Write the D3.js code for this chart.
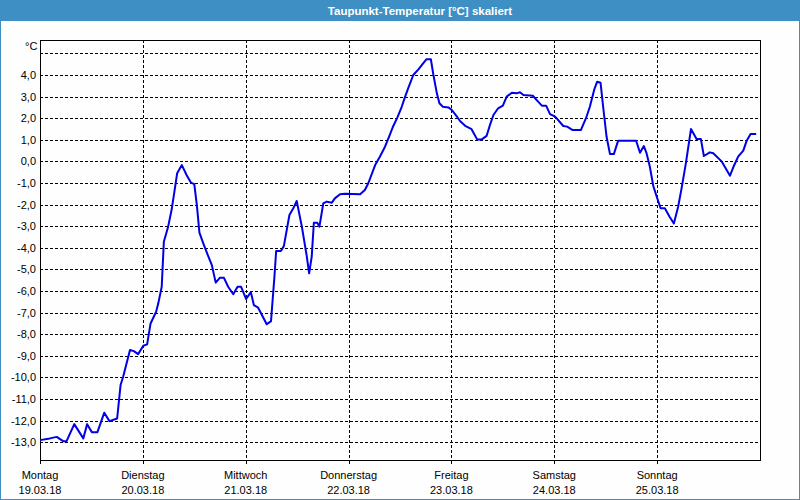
<!DOCTYPE html>
<html><head><meta charset="utf-8">
<script src="https://cdn.jsdelivr.net/npm/d3@7"></script>
<style>html,body{margin:0;padding:0;background:#fff}svg{display:block}</style>
</head><body>
<svg id="c" width="800" height="500"></svg>
<script>
const title = "Taupunkt-Temperatur [°C] skaliert";
const unitLabel = "°C";
const dayNames = ["Montag","Dienstag","Mittwoch","Donnerstag","Freitag","Samstag","Sonntag"];
const dayDates = ["19.03.18","20.03.18","21.03.18","22.03.18","23.03.18","24.03.18","25.03.18"];
const yTicks = [-13,-12,-11,-10,-9,-8,-7,-6,-5,-4,-3,-2,-1,0,1,2,3,4];
const hours = [0,2.3,3.9,5.4,6.2,8.0,10.1,11.0,12.1,13.4,15.0,16.2,18.0,18.8,19.4,21.0,21.9,22.9,24.1,25.0,25.8,27.1,27.6,28.4,28.9,29.9,30.7,31.3,32.0,33.1,34.2,35.2,36.0,36.6,37.2,38.1,39.3,40.1,41.0,42.0,42.9,43.9,45.1,46.1,46.9,48.1,49.2,49.9,50.9,52.9,53.9,54.7,55.1,56.2,56.9,58.2,59.1,59.9,61.1,62.2,62.8,63.4,63.9,64.7,65.2,66.1,66.9,68.1,68.8,70.0,71.2,74.7,75.8,76.6,78.2,79.3,80.5,81.3,82.3,83.4,84.4,85.2,85.9,87.1,88.3,89.4,90.2,91.2,91.8,92.6,93.2,94.0,95.3,96.1,97.2,98.0,99.2,100.7,102.0,103.1,104.2,105.0,105.8,106.9,108.0,108.9,110.1,111.2,112.0,112.8,115.0,115.9,117.1,118.1,119.0,120.2,122.1,123.0,124.3,126.2,127.4,128.3,129.3,130.0,130.8,131.4,132.2,133.0,133.9,134.9,139.1,140.0,140.9,141.5,142.3,143.1,143.9,144.8,145.8,146.9,147.9,148.9,149.7,150.7,151.9,153.2,154.2,154.9,156.3,157.1,159.1,161.0,161.9,162.9,164.1,164.9,165.8,167.1];
const temps = [-12.9,-12.82,-12.75,-12.95,-12.95,-12.16,-12.82,-12.16,-12.53,-12.53,-11.63,-12.02,-11.9,-10.35,-9.97,-8.73,-8.78,-8.92,-8.53,-8.47,-7.5,-6.96,-6.57,-5.8,-3.72,-3.02,-2.25,-1.48,-0.55,-0.17,-0.63,-0.98,-1.05,-2.02,-3.3,-3.79,-4.41,-4.8,-5.61,-5.38,-5.38,-5.8,-6.15,-5.8,-5.8,-6.37,-6.05,-6.65,-6.77,-7.54,-7.39,-5.34,-4.15,-4.15,-3.92,-2.48,-2.17,-1.83,-3.02,-4.33,-5.18,-4.41,-2.84,-2.84,-3.02,-1.94,-1.86,-1.91,-1.71,-1.52,-1.5,-1.52,-1.32,-1.01,-0.17,0.22,0.68,1.07,1.58,2.04,2.53,3.0,3.38,4.0,4.26,4.54,4.73,4.73,4.0,3.15,2.69,2.53,2.5,2.38,2.1,1.87,1.65,1.49,1.02,1.02,1.18,1.69,2.15,2.46,2.58,3.0,3.18,3.15,3.2,3.07,3.04,2.84,2.58,2.58,2.19,2.07,1.64,1.61,1.45,1.45,2.0,2.53,3.31,3.69,3.64,2.53,1.14,0.34,0.34,0.96,0.96,0.40,0.71,0.40,-0.25,-1.14,-1.63,-2.17,-2.17,-2.56,-2.87,-2.1,-1.25,-0.09,1.5,1.04,1.04,0.25,0.42,0.38,-0.01,-0.66,-0.21,0.22,0.5,0.96,1.27,1.27];

const svg = d3.select("#c");
const W = 800, H = 500;
const L = 40, R = 760, T = 40, B = 460;
const font = "'Liberation Sans', Arial, sans-serif";

svg.append("rect").attr("x",0.5).attr("y",0.5).attr("width",W-1).attr("height",H-1)
  .attr("fill","#fdfefd").attr("stroke","#3d8fc4");
svg.append("rect").attr("x",0).attr("y",0).attr("width",W).attr("height",21).attr("fill","#3d8fc4");
svg.append("text").attr("x",420).attr("y",10.5).attr("text-anchor","middle").attr("dominant-baseline","central")
  .attr("fill","#fff").attr("font-family",font).attr("font-size",11.5).attr("font-weight","bold").text(title);

const x = d3.scaleLinear().domain([0, 168]).range([L, R]);
const y = d3.scaleLinear().domain([-13.82, 5.62]).range([B, T]);

const g = svg.append("g");
// horizontal grid
const hGrid = yTicks.concat([5]);
g.selectAll("line.h").data(hGrid).join("line")
  .attr("x1",L).attr("x2",R).attr("y1",d=>Math.round(y(d))+0.5).attr("y2",d=>Math.round(y(d))+0.5)
  .attr("stroke","#000").attr("stroke-dasharray","3,2").attr("shape-rendering","crispEdges");
// vertical grid
const dayIdx = d3.range(1,7);
g.selectAll("line.v").data(dayIdx).join("line")
  .attr("x1",d=>Math.round(x(d*24))+0.5).attr("x2",d=>Math.round(x(d*24))+0.5).attr("y1",T).attr("y2",B)
  .attr("stroke","#000").attr("stroke-dasharray","3,2").attr("shape-rendering","crispEdges");
// ticks below
g.selectAll("line.t").data(d3.range(0,7)).join("line")
  .attr("x1",d=>Math.round(x(d*24))+0.5).attr("x2",d=>Math.round(x(d*24))+0.5).attr("y1",B).attr("y2",B+4)
  .attr("stroke","#000").attr("shape-rendering","crispEdges");
// frame
svg.append("rect").attr("x",L+0.5).attr("y",T+0.5).attr("width",R-L).attr("height",B-T)
  .attr("fill","none").attr("stroke","#000").attr("shape-rendering","crispEdges");

// y labels
svg.selectAll("text.y").data(yTicks).join("text")
  .attr("x",36).attr("y",d=>y(d)).attr("text-anchor","end").attr("dominant-baseline","central")
  .attr("font-family",font).attr("font-size",11).attr("fill","#000")
  .text(d=>d3.format(".1f")(d).replace("−","-").replace(".",","));
svg.append("text").attr("x",25).attr("y",46).attr("dominant-baseline","central")
  .attr("font-family",font).attr("font-size",11).attr("fill","#000").text(unitLabel);

// x labels
svg.selectAll("text.xd").data(dayNames).join("text")
  .attr("x",(d,i)=>x(i*24)).attr("y",475).attr("text-anchor","middle").attr("dominant-baseline","central")
  .attr("font-family",font).attr("font-size",11).attr("fill","#000").text(d=>d);
svg.selectAll("text.xt").data(dayDates).join("text")
  .attr("x",(d,i)=>x(i*24)).attr("y",490).attr("text-anchor","middle").attr("dominant-baseline","central")
  .attr("font-family",font).attr("font-size",11).attr("fill","#000").text(d=>d);

// line
const data = hours.map((h,i)=>[h,temps[i]]);
svg.append("path").datum(data)
  .attr("fill","none").attr("stroke","#0000e6").attr("stroke-width",2).attr("stroke-linejoin","round")
  .attr("d", d3.line().x(d=>x(d[0])).y(d=>y(d[1])));
</script>
</body></html>
